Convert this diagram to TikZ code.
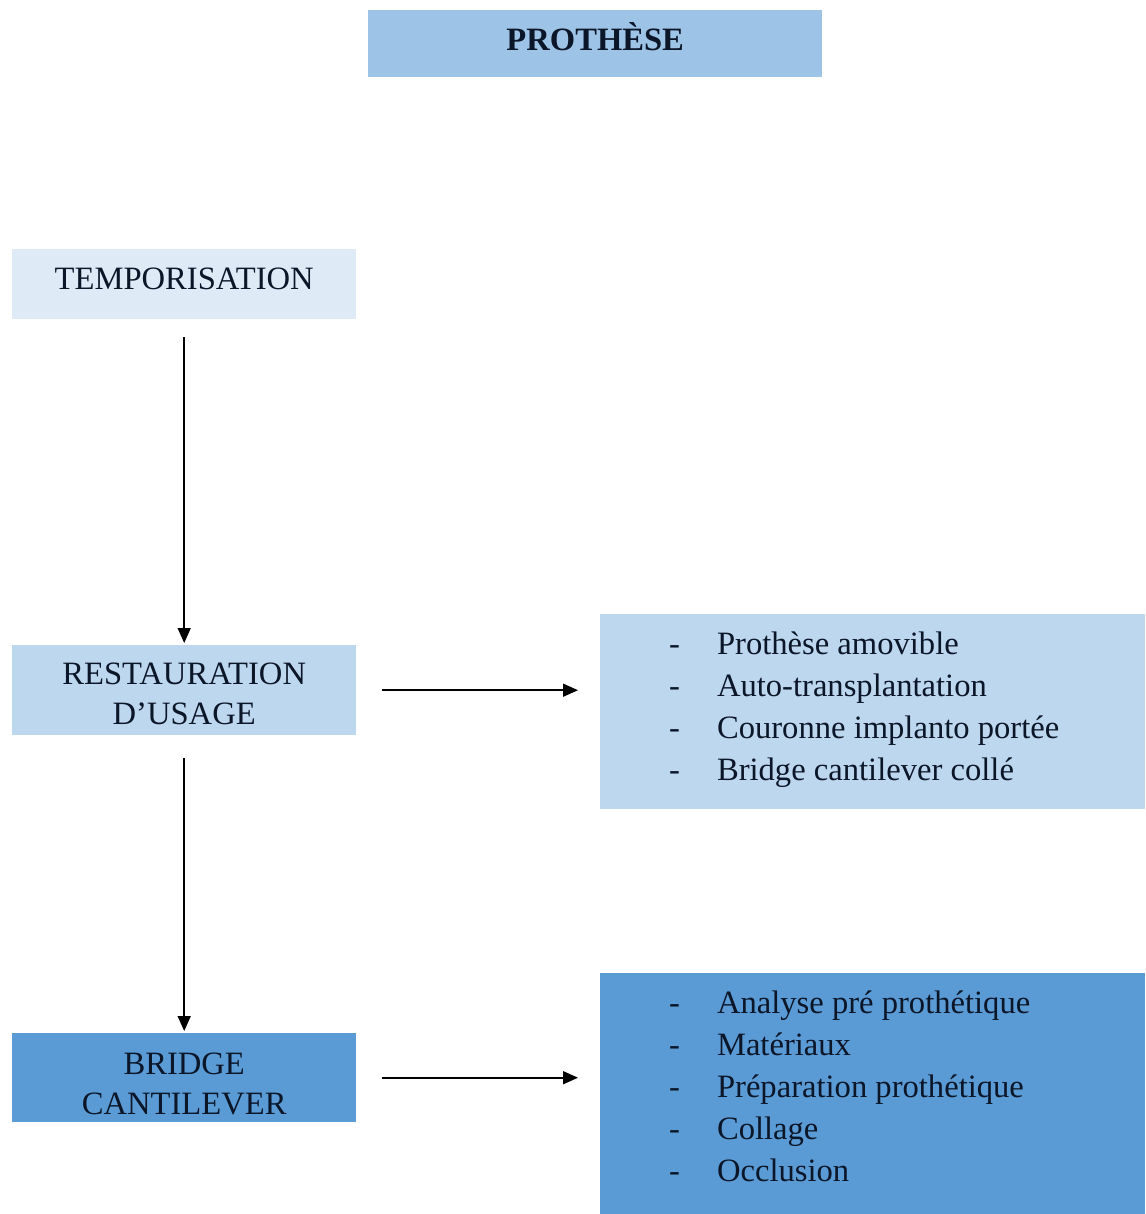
\documentclass[tikz,border=0pt]{standalone}
\usepackage{fontspec}
\setmainfont{Liberation Serif}
\usetikzlibrary{arrows.meta,calc}
\definecolor{titlefill}{HTML}{9DC3E6}
\definecolor{tempfill}{HTML}{DEEBF7}
\definecolor{restfill}{HTML}{BDD7EE}
\definecolor{bridgefill}{HTML}{5B9BD5}
\definecolor{ink}{HTML}{0B1628}
\begin{document}
\begin{tikzpicture}[x=1pt,y=-1pt,
  font=\fontsize{32.6}{40}\selectfont, text=ink,
  box/.style={inner sep=0pt, minimum width=344pt, anchor=north west, align=center},
  listtext/.style={anchor=base west, inner sep=0pt, font=\fontsize{32.6}{42}\selectfont},
  arr/.style={-{Triangle[length=15pt,width=13pt]}, line width=1.6pt, draw=black}]
\useasboundingbox (0,0) rectangle (1145,1214);
\fill[white] (0,0) rectangle (1145,1214);
\node[box, fill=titlefill, minimum width=454pt, minimum height=67pt, text height=28pt, text depth=15pt, font=\fontsize{32.6}{40}\selectfont\bfseries] (title) at (368,10) {PROTHÈSE};
\node[box, fill=tempfill, minimum height=70pt, text height=25pt, text depth=14pt] (temp) at (12,249) {TEMPORISATION};
\node[box, fill=restfill, minimum height=90pt, text height=68pt, text depth=0pt] (rest) at (12,645) {RESTAURATION\\D’USAGE};
\node[box, fill=bridgefill, minimum height=89pt, text height=74pt, text depth=0pt] (bridge) at (12,1033) {BRIDGE\\CANTILEVER};
\node[box, fill=restfill, minimum width=545pt, minimum height=195pt] (r1) at (600,614) {};
\node[box, fill=bridgefill, minimum width=545pt, minimum height=241pt] (r2) at (600,973) {};
\node[listtext] (l1) at (669,654) {\begin{tabular}[t]{@{}l@{\hspace{37pt}}l@{}}
-&Prothèse amovible\\
-&Auto-transplantation\\
-&Couronne implanto portée\\
-&Bridge cantilever collé
\end{tabular}};
\node[listtext] (l2) at (669,1013) {\begin{tabular}[t]{@{}l@{\hspace{37pt}}l@{}}
-&Analyse pré prothétique\\
-&Matériaux\\
-&Préparation prothétique\\
-&Collage\\
-&Occlusion
\end{tabular}};
\draw[arr, shorten <=18pt, shorten >=2pt] (temp.south) -- (rest.north);
\draw[arr, shorten <=23pt, shorten >=2pt] (rest.south) -- (bridge.north);
\draw[arr, shorten <=26pt, shorten >=22pt] (rest.east) -- (rest.east -| r1.west);
\draw[arr, shorten <=26pt, shorten >=22pt] (bridge.east) -- (bridge.east -| r2.west);
\end{tikzpicture}
\end{document}
